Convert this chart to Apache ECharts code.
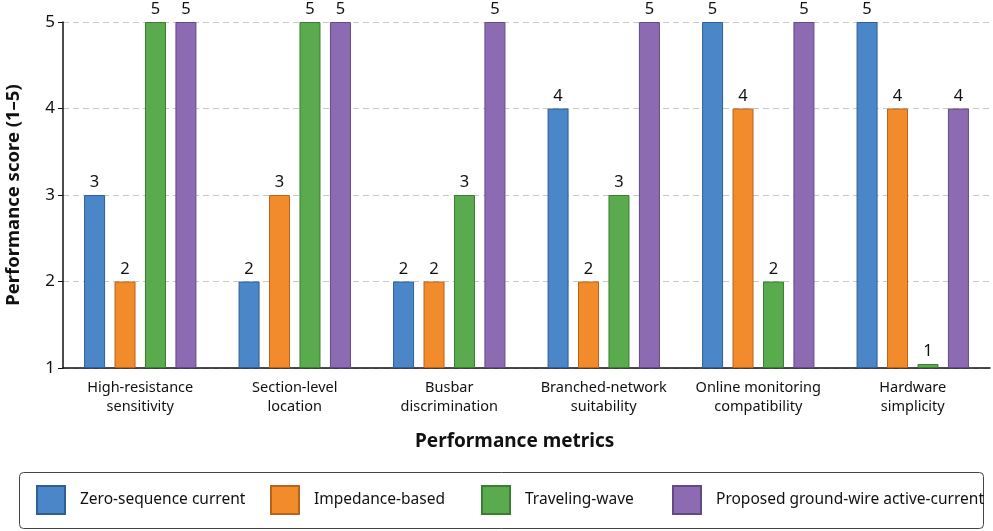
<!DOCTYPE html>
<html>
<head>
<meta charset="utf-8">
<script src="https://cdn.jsdelivr.net/npm/echarts@6/dist/echarts.min.js"></script>
<style>
html,body{margin:0;padding:0;background:#fff;}
#chart{width:993px;height:531px;}
</style>
</head>
<body>
<div id="chart"></div>
<script>
const categories = [
  "High-resistance\nsensitivity",
  "Section-level\nlocation",
  "Busbar\ndiscrimination",
  "Branched-network\nsuitability",
  "Online monitoring\ncompatibility",
  "Hardware\nsimplicity"
];
const seriesNames = [
  "Zero-sequence current",
  "Impedance-based",
  "Traveling-wave",
  "Proposed ground-wire active-current"
];
const zeroSequence = [3, 2, 2, 4, 5, 5];
const impedanceBased = [2, 3, 2, 2, 4, 4];
const travelingWave = [5, 5, 3, 3, 2, 1];
const proposedGroundWire = [5, 5, 5, 5, 5, 4];
const yTicks = [1, 2, 3, 4, 5];

const colors = ["#4a86c8", "#f28b2c", "#5aab4e", "#8c6bb3"];
const borders = ["#2f5f94", "#b8641a", "#3b7d33", "#624a85"];
const FONT = "Noto Sans";
const legendLefts = [36, 270, 481, 672];

const dataSets = [zeroSequence, impedanceBased, travelingWave, proposedGroundWire];
const axisMin = yTicks[0];

// Bars start at the axis floor (score 1): a transparent base segment up to the floor
// is stacked under each visible bar so the visible bar spans floor -> score.
const series = [];
seriesNames.forEach((name, i) => {
  series.push({
    name: '__base' + i,
    type: 'bar',
    stack: 's' + i,
    data: categories.map(() => axisMin),
    barWidth: 21,
    barGap: '45%',
    itemStyle: { color: 'transparent' },
    silent: true,
    label: { show: false },
    tooltip: { show: false }
  });
  series.push({
    name: name,
    type: 'bar',
    stack: 's' + i,
    data: dataSets[i].map(v => ({ value: v - axisMin, raw: v })),
    barWidth: 21,
    barGap: '45%',
    barMinHeight: 4,
    itemStyle: { color: colors[i], borderColor: borders[i], borderWidth: 1 },
    label: {
      show: true, position: 'top', distance: 4,
      fontFamily: FONT, fontSize: 16.5, color: '#111',
      formatter: p => String(p.data.raw)
    }
  });
});

const legends = seriesNames.map((name, i) => ({
  top: 485,
  left: legendLefts[i],
  padding: 0,
  itemWidth: 28,
  itemHeight: 28,
  icon: 'rect',
  data: [name],
  selectedMode: false,
  textStyle: { fontFamily: FONT, fontSize: 15.5, color: '#111', padding: [0, 0, 0, 10] }
}));

const chart = echarts.init(document.getElementById('chart'));
chart.setOption({
  animation: false,
  backgroundColor: '#fff',
  textStyle: { fontFamily: FONT },
  title: {
    text: 'Performance metrics',
    left: 410,
    top: 427,
    textStyle: { fontFamily: FONT, fontSize: 19, fontWeight: 'bold', color: '#111' }
  },
  graphic: [{
    type: 'rect',
    left: 19, top: 472,
    shape: { width: 964, height: 56, r: 4 },
    style: { fill: '#fff', stroke: '#444', lineWidth: 1 },
    z: -1
  }],
  grid: { left: 63, right: 3, top: 22, bottom: 163, containLabel: false, outerBoundsMode: 'none' },
  legend: legends,
  xAxis: {
    type: 'category',
    data: categories,
    axisLine: { lineStyle: { color: '#111', width: 1.5 } },
    axisTick: { show: false },
    axisLabel: { interval: 0, fontFamily: FONT, fontSize: 14.5, color: '#111', lineHeight: 19, margin: 10 }
  },
  yAxis: {
    type: 'value',
    min: yTicks[0],
    max: yTicks[yTicks.length - 1],
    interval: 1,
    name: 'Performance score (1–5)',
    nameLocation: 'middle',
    nameGap: 40,
    nameTextStyle: { fontFamily: FONT, fontSize: 18.5, fontWeight: 'bold', color: '#111' },
    axisLine: { show: true, lineStyle: { color: '#111', width: 1.5 } },
    axisTick: { show: true, length: 5, lineStyle: { color: '#111' } },
    axisLabel: { fontFamily: FONT, fontSize: 17, color: '#111', margin: 8 },
    splitLine: { show: true, lineStyle: { color: '#c8c8c8', type: [6, 4], width: 1 } }
  },
  series: series
});
</script>
</body>
</html>
